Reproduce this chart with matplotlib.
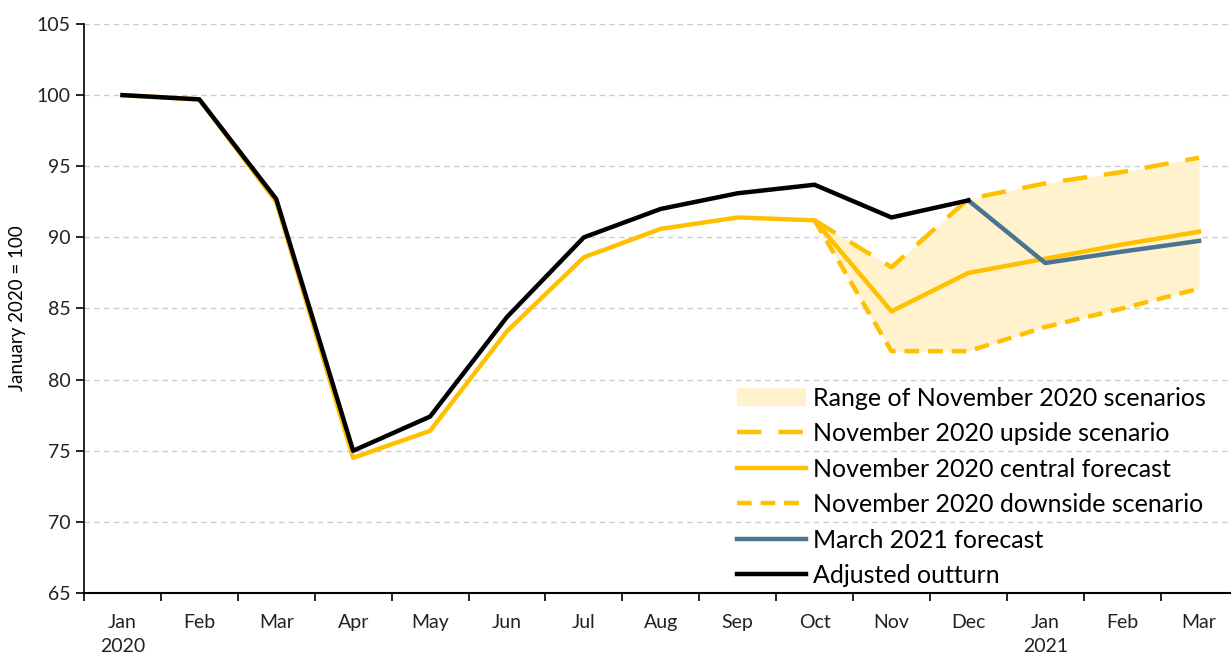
import matplotlib
matplotlib.use("Agg")
import matplotlib.pyplot as plt
import numpy as np

months = ["Jan\n2020", "Feb", "Mar", "Apr", "May", "Jun", "Jul", "Aug",
          "Sep", "Oct", "Nov", "Dec", "Jan\n2021", "Feb", "Mar"]

outturn = [100.0, 99.7, 92.7, 75.0, 77.4, 84.4, 90.0, 92.0, 93.1, 93.7, 91.4, 92.6]
central = [100.0, 99.7, 92.5, 74.5, 76.4, 83.4, 88.6, 90.6, 91.4, 91.2, 84.8, 87.5, 88.5, 89.5, 90.4]
upside_idx = [9, 10, 11, 12, 13, 14]
upside = [91.2, 87.9, 92.7, 93.8, 94.6, 95.6]
downside = [91.2, 82.0, 82.0, 83.7, 85.0, 86.4]
march_idx = [11, 12, 13, 14]
march = [92.6, 88.2, 89.0, 89.75]

YELLOW = "#FFC000"
FILL = "#FFF2CC"
BLUE = "#4A7491"

plt.rcParams['font.family'] = ['Lato', 'DejaVu Sans']

fig = plt.figure(figsize=(12.31, 6.55), dpi=100)
ax = fig.add_axes([84/1231, 1-593/655, (1237.5-84)/1231, (593-24)/655])

x = np.arange(len(months))
ax.fill_between(upside_idx, downside, upside, color=FILL, lw=0,
                label="Range of November 2020 scenarios", zorder=1)
ax.plot(upside_idx, upside, color=YELLOW, lw=3.2, ls=(0, (5.5, 3.8)),
        label="November 2020 upside scenario", zorder=2)
ax.plot(x, central, color=YELLOW, lw=3.2,
        label="November 2020 central forecast", zorder=3)
ax.plot(upside_idx, downside, color=YELLOW, lw=3.2, ls=(0, (3.3, 2.0)),
        label="November 2020 downside scenario", zorder=2)
ax.plot(march_idx, march, color=BLUE, lw=3.2,
        label="March 2021 forecast", zorder=4)
ax.plot(x[:len(outturn)], outturn, color="black", lw=3.2,
        label="Adjusted outturn", zorder=5)

ax.set_xlim(-0.5, 14.5)
ax.set_ylim(65, 105)
ax.set_yticks(np.arange(65, 106, 5))
ax.set_xticks(x)
ax.set_xticklabels(months, fontsize=14, color="#222222", linespacing=1.5)
ax.set_xticks(np.arange(-0.5, 14.6, 1), minor=True)
ax.tick_params(axis='x', which='major', length=0, pad=15)
ax.tick_params(axis='x', which='minor', length=6, width=1.2, direction='out')
ax.tick_params(axis='y', length=6, width=1.2, labelsize=14, labelcolor="#222222")
ax.yaxis.grid(True, ls=(0, (4, 3)), color="#CCCCCC", lw=1)
ax.set_axisbelow(True)
for s in ["top", "right"]:
    ax.spines[s].set_visible(False)
ax.spines["left"].set_linewidth(1.2)
ax.spines["bottom"].set_linewidth(1.5)
ax.set_ylabel("January 2020 = 100", fontsize=13.5, labelpad=8)

leg = ax.legend(loc="lower right", bbox_to_anchor=(0.986, -0.016), frameon=False,
                fontsize=18, handlelength=2.75, handletextpad=0.3,
                labelspacing=0.5, borderaxespad=0.2)

fig.savefig("out.png", dpi=100)
